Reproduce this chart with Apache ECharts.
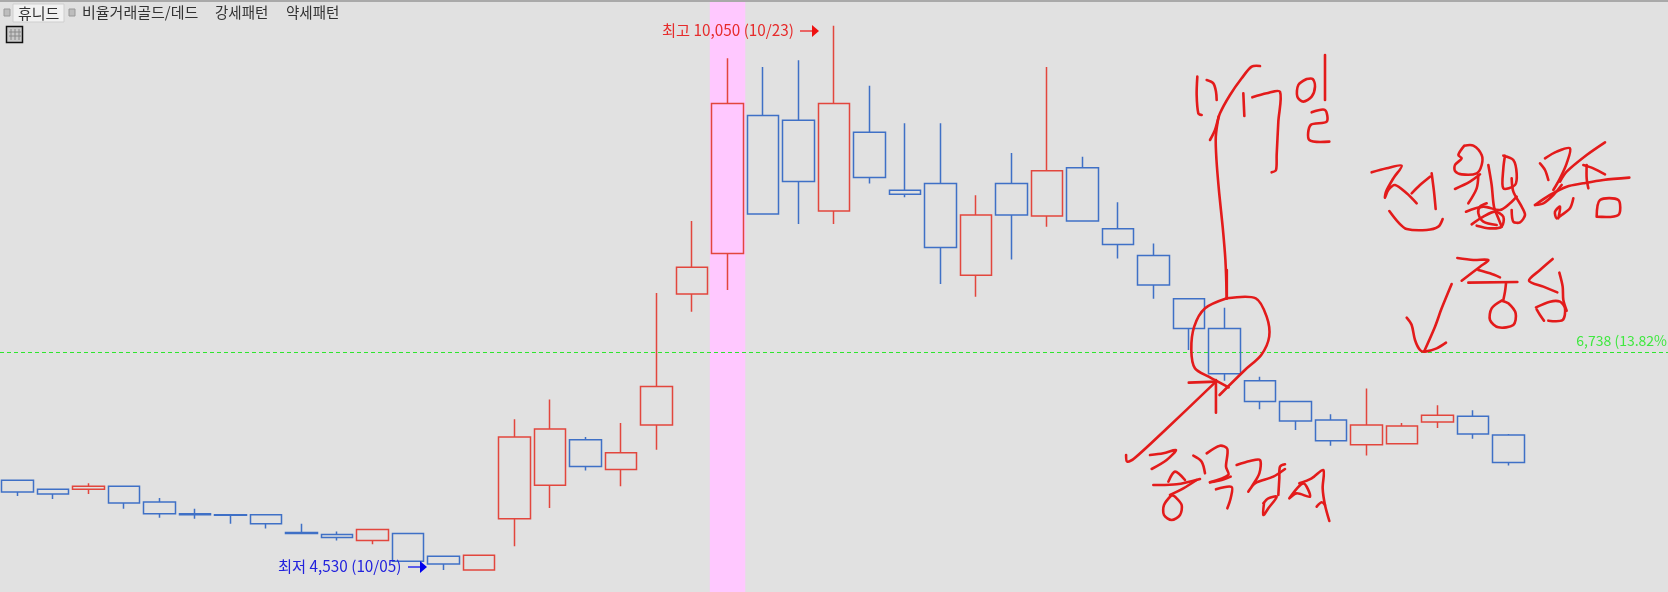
<!DOCTYPE html>
<html>
<head>
<meta charset="utf-8">
<style>html,body{margin:0;padding:0;background:#e1e1e1;overflow:hidden}#c{width:1668px;height:592px}</style>
<script src="https://cdn.jsdelivr.net/npm/echarts@6/dist/echarts.min.js"></script>
</head>
<body>
<div id="c"></div>
<script>
// ---- data ----
const categories = ['1','2','3','4','5','6','7','8','9','10','11','12','13','14','15','16','17','18','19','20','21','22','23','24','25','26','27','28','29','30','31','32','33','34','35','36','37','38','39','40','41','42','43','44','45','46','47'];
const opens  = [5440,5350,5350,5380,5220,5100,5090,5090,4910,4890,4830,4900,4670,4530,5050,5390,5850,5550,6000,7330,7740,9140,9090,8170,8970,8380,8450,7520,8450,8120,8610,7990,7720,7280,6980,6450,6240,6050,5800,5810,6030,6090,5900];
const closes = [5320,5300,5380,5210,5100,5090,5085,5000,4900,4860,4940,4620,4590,4680,5880,5960,5580,5720,6390,7600,9260,8140,8470,9260,8510,8340,7800,8130,8130,8580,8070,7830,7420,6980,6520,6240,6040,5840,6000,5990,6100,5910,5620];
const lows   = [5280,5250,5300,5150,5060,5050,5000,4950,4900,4830,4790,4620,4530,4530,4770,5160,5540,5380,5750,7150,7370,8140,8040,8040,8450,8310,7430,7300,7680,8010,8070,7690,7280,6760,6450,6160,5950,5790,5690,5810,5970,5860,5590];
const highs  = [5440,5350,5410,5380,5260,5150,5090,5090,5000,4920,4940,4900,4670,4680,6060,6260,5880,6020,7340,8070,9720,9630,9700,10050,9440,9060,9060,8330,8760,9630,8720,8260,7840,7280,7190,6490,6240,6110,6370,6020,6200,6150,5910];
const highlightCategory = '21';
const targetPrice = 6738;
const yMin = 4307, yMax = 10290;

const tabLabels = ['휴니드', '비율거래골드/데드', '강세패턴', '약세패턴'];
const highLabel = '최고 10,050 (10/23)';
const lowLabel = '최저 4,530 (10/05)';
const targetLabel = '6,738 (13.82%';

// ---- handwriting, traced as pen strokes in zoomed crop coordinates ----
const inkLine = { ox:1130, oy:60, sx:2.914, sy:3, strokes:[
 [[258,170],[250,230],[252,300],[260,400],[270,500],[278,600],[282,715]]
]};
const inkCircle = { ox:1100, oy:270, sx:2.76, sy:3, strokes:[
 [[350,0],[350,85]],
 [[350,85],[430,85],[460,140],[467,200],[445,255],[400,300],[330,375]],
 [[350,85],[290,115],[260,170],[252,240],[262,295],[300,320],[355,352]],
 [[72,555],[75,575],[95,565],[180,480],[320,335]],
 [[245,338],[320,335]],
 [[320,330],[320,428]]
]};
const inkDate = { ox:1190, oy:55, sx:3, sy:3, strokes:[
 [[22,65],[20,120],[25,175],[35,180]],
 [[50,75],[70,85],[78,110],[80,135]],
 [[210,33],[185,35],[155,70],[120,120],[90,175],[75,225],[60,255]],
 [[160,115],[163,183]],
 [[187,127],[230,115],[270,110],[265,200],[260,300],[258,345],[245,352]],
 [[405,0],[405,60],[405,135]],
 [[350,72],[325,90],[322,125],[340,140],[365,125],[375,95],[368,72],[350,72]],
 [[365,172],[405,165],[410,200],[362,210],[358,255],[418,260]]
]};
const inkWord1 = { ox:1370, oy:135, sx:3, sy:3, strokes:[
 [[5,112],[50,100],[95,92],[70,130],[48,170],[45,188],[55,165],[75,150],[110,175],[140,205]],
 [[125,175],[150,150],[180,125]],
 [[185,115],[192,170],[197,222]],
 [[58,228],[85,262],[110,282],[170,285],[205,275],[218,252]],
 [[283,32],[265,60],[275,70],[255,90],[255,108],[275,118],[320,115],[335,90],[335,60],[310,32],[283,32]],
 [[255,162],[300,140],[330,118]],
 [[325,120],[320,160],[295,205]],
 [[355,90],[365,150],[372,215],[385,250],[395,275]],
 [[400,62],[430,75],[440,115],[435,150],[400,160],[400,100],[405,62]],
 [[425,130],[430,170],[455,215],[465,240],[450,262],[430,260],[425,225]],
 [[288,230],[340,215],[390,225],[420,205],[440,185]],
 [[350,205],[330,215],[325,235],[340,260],[380,270]],
 [[305,268],[340,245],[375,230],[400,245],[395,275],[360,280],[320,272]],
 [[510,85],[525,105],[535,135]],
 [[525,70],[560,50],[600,40],[590,85],[570,130],[550,165]],
 [[705,22],[650,60],[590,110],[570,140]],
 [[495,210],[540,180],[590,155],[640,145],[700,135],[778,128]],
 [[495,210],[520,205],[550,180],[575,150]],
 [[640,90],[670,100],[705,118]],
 [[650,90],[650,130],[655,160]],
 [[610,190],[600,220],[575,240],[560,250],[555,230],[570,215],[565,250]],
 [[680,245],[690,195],[745,195],[745,240],[680,245]]
]};
const inkWord2 = { ox:1400, oy:250, sx:3, sy:3, strokes:[
 [[172,24],[220,30],[265,30],[240,50],[185,92]],
 [[235,60],[270,70],[300,82]],
 [[205,98],[352,96]],
 [[318,100],[315,125],[310,150]],
 [[305,152],[275,175],[270,210],[295,232],[340,225],[347,190],[325,160],[305,152]],
 [[458,27],[420,60],[387,92],[430,110],[472,127]],
 [[478,68],[488,110],[490,150],[500,182]],
 [[408,172],[450,155],[480,155],[495,175],[488,210],[445,212]],
 [[410,178],[420,195],[432,212]],
 [[155,102],[125,175],[105,230],[72,305]],
 [[20,203],[35,225],[45,270],[60,300],[75,305],[110,295],[138,278]]
]};
const inkWord3 = { ox:1140, oy:445, sx:3, sy:3, strokes:[
 [[30,30],[70,25],[108,15],[80,45],[35,72]],
 [[85,110],[105,80],[135,105]],
 [[40,120],[110,118],[180,102]],
 [[170,105],[130,130],[90,150]],
 [[95,150],[72,180],[72,210],[95,225],[120,210],[125,180],[105,155],[95,150]],
 [[160,32],[185,50],[195,85]],
 [[200,25],[240,2],[262,12],[258,65],[265,90],[210,112]],
 [[210,112],[245,105],[272,95]],
 [[228,133],[275,126],[272,160],[262,190]],
 [[290,60],[330,48],[360,45],[358,85],[335,125],[325,140],[345,115],[400,95],[435,72]],
 [[435,58],[420,65],[418,100],[415,150]],
 [[372,175],[370,210],[385,190],[410,155],[385,160],[370,175]],
 [[448,160],[490,115],[510,155],[470,145],[448,160]],
 [[478,115],[515,100],[550,75],[548,130],[555,180],[568,228]],
 [[530,185],[545,172],[555,180]]
]};

const FONT = '"Noto Sans CJK KR","Noto Sans",sans-serif';
const INK = '#e31b1b';
const graphics = [];
graphics.push({type:'rect',shape:{x:0,y:0,width:1668,height:2},style:{fill:'#a9a9a9'},z:1});

function txt(t,x,y,size,color,align){
  graphics.push({type:'text',x:x,y:y,z:20,style:{text:t,font:size+'px '+FONT,fill:color,textAlign:align||'left',textVerticalAlign:'middle'}});
}
function smallBtn(x,y){
  graphics.push({type:'rect',shape:{x:x,y:y,width:6,height:7},style:{fill:'#bdbdbd',stroke:'#999',lineWidth:1},z:10});
}
// tab strip
smallBtn(4,9); smallBtn(69,9);
graphics.push({type:'rect',shape:{x:13,y:4,width:51,height:18},style:{fill:'#f2f2f2',stroke:'#cfcfcf',lineWidth:1},z:10});
txt(tabLabels[0],18,13,15,'#333');
txt(tabLabels[1],82,12,15,'#333');
txt(tabLabels[2],215,12,14.5,'#333');
txt(tabLabels[3],286,12,14.5,'#333');
// table icon
graphics.push({type:'rect',shape:{x:6.5,y:26.5,width:16,height:16},style:{fill:'#c9c9c9',stroke:'#111',lineWidth:1.5},z:10});
[[11,29,11,40],[15,29,15,40],[19,29,19,40],[9,32,21,32],[9,36,21,36]].forEach(l=>{
  graphics.push({type:'line',shape:{x1:l[0],y1:l[1],x2:l[2],y2:l[3]},style:{stroke:'#8a8a8a',lineWidth:1},z:11});
});
// extreme labels + arrows
function arrow(x1,x2,y,color){
  graphics.push({type:'line',shape:{x1:x1,y1:y,x2:x2-5,y2:y},style:{stroke:color,lineWidth:1.2},z:20});
  graphics.push({type:'polygon',shape:{points:[[x2-7,y-6],[x2,y],[x2-7,y+6]]},style:{fill:color},z:20});
}
txt(highLabel,662,30,15.3,'#e62b2b');
arrow(800,819,31,'#ee1111');
txt(lowLabel,278,566,15.3,'#2222dd');
arrow(408,427,567,'#0000ee');
txt(targetLabel,1667,341,14,'#3fe83f','right');
// pen strokes
[inkLine,inkCircle,inkDate,inkWord1,inkWord2,inkWord3].forEach(g=>g.strokes.forEach(st=>{
  graphics.push({type:'polyline',z:30,silent:true,
    shape:{points:st.map(p=>[g.ox+p[0]/g.sx,g.oy+p[1]/g.sy]),smooth:0.3},
    style:{stroke:INK,lineWidth:2.6,fill:null,lineCap:'round',lineJoin:'round'}});
}));

const chart = echarts.init(document.getElementById('c'),null,{renderer:'canvas'});
chart.setOption({
  animation:false,
  backgroundColor:'#e1e1e1',
  grid:{left:0,top:2,width:1670,height:590,containLabel:false},
  xAxis:{type:'category',data:categories,show:false,boundaryGap:true},
  yAxis:{type:'value',min:yMin,max:yMax,show:false,splitLine:{show:false}},
  tooltip:{show:false},
  series:[
    {type:'bar',name:'highlight',barWidth:'100%',silent:true,z:1,
      itemStyle:{color:'#ffc8ff'},
      data:categories.map(c=>c===highlightCategory?yMax:null)},
    {type:'candlestick',name:'price',barWidth:32,z:5,silent:true,
      itemStyle:{color:'transparent',color0:'transparent',borderColor:'#e2463d',borderColor0:'#3f70c6',borderWidth:1.5},
      data:opens.map((o,i)=>[o,closes[i],lows[i],highs[i]]),
      markLine:{silent:true,symbol:'none',animation:false,z:3,
        lineStyle:{color:'#2ee62e',type:[4,3],width:1},
        label:{show:false},
        data:[{yAxis:targetPrice}]}}
  ],
  graphic:graphics
});
</script>
</body>
</html>
